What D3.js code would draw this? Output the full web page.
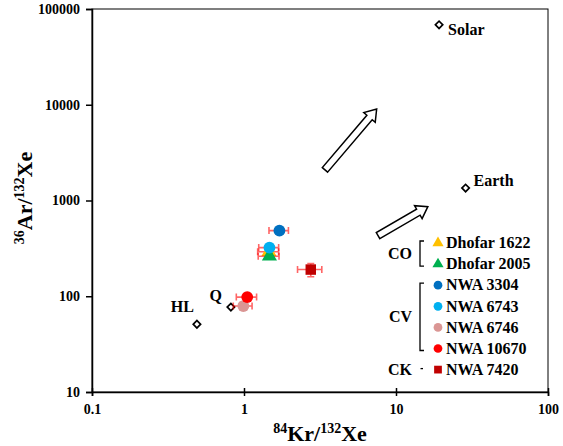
<!DOCTYPE html>
<html><head><meta charset="utf-8">
<script src="https://cdn.jsdelivr.net/npm/d3@7"></script>
<style>
body{margin:0;background:#fff;}
svg{display:block;font-family:"Liberation Serif","Times New Roman",serif;font-weight:bold;}
</style></head>
<body><svg id="c" width="563" height="446"></svg>
<script>
// ---- data ----
const samples = ["Dhofar 1622","Dhofar 2005","NWA 3304","NWA 6743","NWA 6746","NWA 10670","NWA 7420"];
const krXe    = [1.46, 1.47, 1.71, 1.47, 0.99, 1.05, 2.75];
const arXe    = [292, 262, 485, 322, 79, 98, 190];
const krErr   = [0.23, 0.23, 0.25, 0.22, 0.14, 0.16, 0.5];
const arErr   = [16, 16, 22, 20, 6, 6, 30];
const sampleColors = ["#FFC000","#00B050","#0070C0","#00B0F0","#DA9694","#FF0000","#C00000"];
const sampleShapes = ["triangle","triangle","circle","circle","circle","circle","square"];
const drawOrder = [0,1,3,2,4,5,6];

const refNames = ["Solar","Earth","HL","Q"];
const refKr    = [19.2, 28.7, 0.49, 0.82];
const refAr    = [68400, 1350, 51, 77];

const arrowFromKr = [3.41, 7.62];
const arrowFromAr = [2090, 430];
const arrowToKr   = [7.46, 16.2];
const arrowToAr   = [9000, 863];

const xTicks = [0.1, 1, 10, 100];
const xTickLabels = ["0.1","1","10","100"];
const yTicks = [10, 100, 1000, 10000, 100000];
const yTickLabels = ["10","100","1000","10000","100000"];

const groups = ["CO","CV","CK"];

// ---- layout ----
const L = 92, R = 548, T = 9, B = 392;
const svg = d3.select("#c");
const x = d3.scaleLog().domain([0.1, 100]).range([L, R]);
const y = d3.scaleLog().domain([10, 100000]).range([B, T]);

// frame
svg.append("rect").attr("x", L).attr("y", T).attr("width", R - L).attr("height", B - T)
  .attr("fill", "none").attr("stroke", "#000").attr("stroke-width", 1);

// axes
const xAxis = d3.axisBottom(x).tickValues(xTicks).tickFormat((d, i) => xTickLabels[i]).tickSize(4).tickPadding(8);
const gx = svg.append("g").attr("transform", `translate(0,${B})`).call(xAxis);
gx.selectAll(".tick line").attr("y1", -4).attr("stroke-width", 1.5);
gx.select(".domain").attr("stroke-width", 1.5);
gx.selectAll("text").attr("font-family", "Liberation Serif").attr("font-weight", "bold").attr("font-size", 14).attr("fill", "#000");

const yAxis = d3.axisLeft(y).tickValues(yTicks).tickFormat((d, i) => yTickLabels[i]).tickSize(6).tickPadding(6);
const gy = svg.append("g").attr("transform", `translate(${L},0)`).call(yAxis);
gy.selectAll(".tick line").attr("stroke-width", 1.5);
gy.select(".domain").attr("stroke-width", 1.5);
gy.selectAll("text").attr("font-family", "Liberation Serif").attr("font-weight", "bold").attr("font-size", 14).attr("fill", "#000");

// axis titles
const xt = svg.append("text").attr("x", 320).attr("y", 441).attr("text-anchor", "middle").attr("font-size", 22);
xt.append("tspan").attr("font-size", 14).attr("dy", -8).text("84");
xt.append("tspan").attr("dy", 8).text("Kr/");
xt.append("tspan").attr("font-size", 14).attr("dy", -8).text("132");
xt.append("tspan").attr("dy", 8).text("Xe");

const yt = svg.append("text").attr("transform", "translate(32,198) rotate(-90)").attr("text-anchor", "middle").attr("font-size", 22);
yt.append("tspan").attr("font-size", 14).attr("dy", -8).text("36");
yt.append("tspan").attr("dy", 8).text("Ar/");
yt.append("tspan").attr("font-size", 14).attr("dy", -8).text("132");
yt.append("tspan").attr("dy", 8).text("Xe");

// arrows
function arrowPath(x0, y0, x1, y1) {
  const dx = x1 - x0, dy = y1 - y0, len = Math.hypot(dx, dy);
  const ux = dx / len, uy = dy / len, nx = -uy, ny = ux;
  const sw = 3.5, hw = 7.5, hl = 11;
  const bx = x1 - ux * hl, by = y1 - uy * hl;
  const pts = [
    [x0 + nx * sw, y0 + ny * sw], [bx + nx * sw, by + ny * sw], [bx + nx * hw, by + ny * hw],
    [x1, y1], [bx - nx * hw, by - ny * hw], [bx - nx * sw, by - ny * sw], [x0 - nx * sw, y0 - ny * sw]
  ];
  return "M" + pts.map(p => p.join(",")).join("L") + "Z";
}
arrowFromKr.forEach((d, i) => {
  svg.append("path").attr("d", arrowPath(x(arrowFromKr[i]), y(arrowFromAr[i]), x(arrowToKr[i]), y(arrowToAr[i])))
    .attr("fill", "#fff").attr("stroke", "#000").attr("stroke-width", 1.5).attr("stroke-linejoin", "miter");
});

// reference points
refNames.forEach((n, i) => {
  svg.append("path").attr("d", d3.symbol().type(d3.symbolSquare).size(27)())
    .attr("transform", `translate(${x(refKr[i])},${y(refAr[i])}) rotate(45)`)
    .attr("fill", "#fff").attr("stroke", "#000").attr("stroke-width", 1.7);
});
const refLabelOffsets = [[9, 10, "start"], [8, -2, "start"], [-3, -12, "end"], [-9, -6, "end"]];
refNames.forEach((n, i) => {
  const o = refLabelOffsets[i];
  svg.append("text").attr("x", x(refKr[i]) + o[0]).attr("y", y(refAr[i]) + o[1])
    .attr("text-anchor", o[2]).attr("font-size", 16).text(n);
});

// markers
function marker(shape, size) {
  if (shape === "triangle") return d3.symbol().type(d3.symbolTriangle).size(size * 0.9)();
  if (shape === "square") return d3.symbol().type(d3.symbolSquare).size(size)();
  return d3.symbol().type(d3.symbolCircle).size(size)();
}

// error bars + sample points
const errColor = "rgba(255,0,0,0.6)";
drawOrder.forEach(i => {
  const cx = x(krXe[i]), cy = y(arXe[i]);
  const g = svg.append("g");
  const x0 = x(krXe[i] - krErr[i]), x1 = x(krXe[i] + krErr[i]);
  const y0 = y(arXe[i] - arErr[i]), y1 = y(arXe[i] + arErr[i]);
  g.append("path").attr("d", `M${x0},${cy}H${x1}M${x0},${cy - 3.5}V${cy + 3.5}M${x1},${cy - 3.5}V${cy + 3.5}`)
    .attr("stroke", errColor).attr("stroke-width", 1.6).attr("fill", "none");
  g.append("path").attr("d", `M${cx},${y0}V${y1}M${cx - 3.5},${y0}H${cx + 3.5}M${cx - 3.5},${y1}H${cx + 3.5}`)
    .attr("stroke", errColor).attr("stroke-width", 1.6).attr("fill", "none");
  g.append("path").attr("d", marker(sampleShapes[i], 110))
    .attr("transform", `translate(${cx},${cy})`).attr("fill", sampleColors[i]);
});

// legend
const legX = 438, legY0 = 243, legDY = 21.1;
samples.forEach((s, i) => {
  const ly = legY0 + i * legDY;
  svg.append("path").attr("d", marker(sampleShapes[i], 60))
    .attr("transform", `translate(${legX},${ly})`).attr("fill", sampleColors[i]);
  svg.append("text").attr("x", legX + 8).attr("y", ly).attr("dy", "0.33em")
    .attr("font-size", 16).text(s);
});
const groupRows = [[0, 1], [2, 5], [6, 6]];
groups.forEach((gname, k) => {
  const r0 = legY0 + groupRows[k][0] * legDY, r1 = legY0 + groupRows[k][1] * legDY;
  svg.append("text").attr("x", 412).attr("y", (r0 + r1) / 2).attr("dy", "0.35em")
    .attr("text-anchor", "end").attr("font-size", 16).text(gname);
  if (r1 > r0) {
    svg.append("path").attr("d", `M424,${r0 - 2}H420V${r1 + 2}H424`)
      .attr("fill", "none").attr("stroke", "#000").attr("stroke-width", 1.3);
  } else {
    svg.append("path").attr("d", `M420.5,${r0 - 1}H423`).attr("stroke", "#000").attr("stroke-width", 1.3);
  }
});
</script></body></html>
